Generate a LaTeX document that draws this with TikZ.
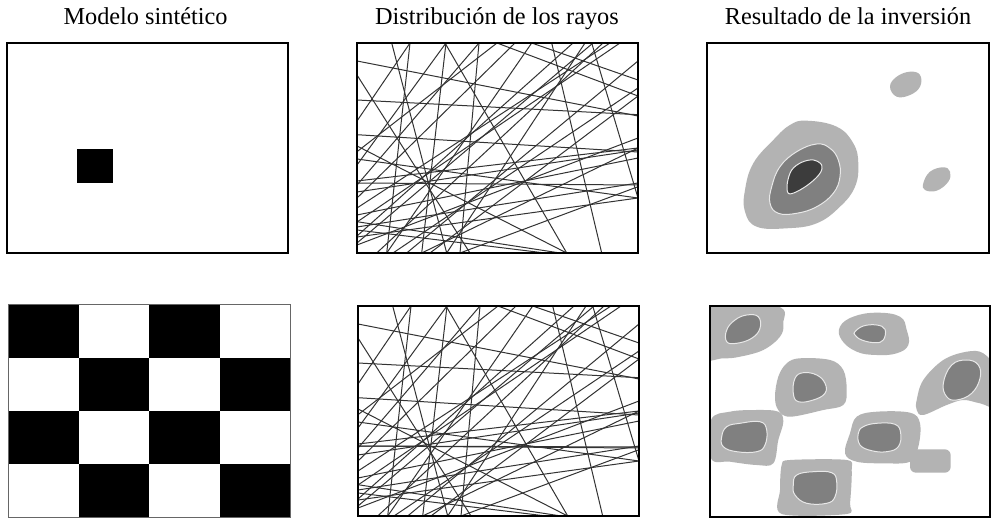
\documentclass[tikz,border=0pt]{standalone}
\usepackage{fontspec}
\setmainfont{Liberation Serif}
\definecolor{lg}{HTML}{B3B3B3}
\definecolor{mg}{HTML}{808080}
\definecolor{dg}{HTML}{3C3C3C}
\definecolor{edge}{HTML}{E8E8E8}
\newcommand\myrays{%
  \foreach \a/\b/\c/\d in {
    376.7/253/603/43, 357/243/593/43, 357/236/573/43, 357/222/620/43,
    357/208/610/43, 406.7/253/638/61, 357/198/515/43, 357/185/479/43,
    393/253/638/88, 357/245/638/138, 421.7/253/638/148, 357/227/638/183,
    357/237/638/198, 357/121/410/43, 357/165/446/43, 430/253/638/96,
    446.7/253/585/43, 357/215/638/158, 386.7/253/531.7/43, 357/151.7/497/43,
    357/192/638/150, 460/253/638/186.7,
    357/61/638/116, 357/100/638/114.7, 357/134.7/638/152, 357/183/638/185,
    357/146/566.7/253, 357/221.7/560/253, 357/75/470/253, 497/43/638/96,
    531.7/43/638/80, 445/43/566.7/253, 391.7/43/446.7/253, 551.7/43/601.7/253,
    591.7/43/638/198, 446/43/421.7/253, 479/43/460/253, 410/43/386.7/253,
    357/230/545/253, 357/181/638/148, 357/159/638/198}
    {\draw[ray] (\a,\b) -- (\c,\d);}%
}
\begin{document}
\begin{tikzpicture}[x=1pt,y=-1pt,
  frame/.style={draw=black,line width=2pt},
  ray/.style={line width=1pt,draw=black!80},
  title/.style={font=\fontsize{24.3}{28}\selectfont,anchor=base},
  outer/.style={fill=lg},
  midl/.style={fill=mg,draw=edge,line width=1pt},
  core/.style={fill=dg,draw=edge,line width=1pt}]
\useasboundingbox (0,0) rectangle (991,518);
\fill[white] (0,0) rectangle (991,518);

% titles
\node[title] (t1) at (145.5,25) {Modelo sintético};
\node[title] (t2) at (497,25) {Distribución de los rayos};
\node[title] (t3) at (848,25) {Resultado de la inversión};

% --- top-left: synthetic model
\fill[black] (77,149) rectangle (113,183);
\draw[frame] (7,43) rectangle (288,253);

% --- bottom-left: checkerboard
\foreach \i in {0,...,3}{
  \foreach \j in {0,...,3}{
    \pgfmathtruncatemacro\cpar{mod(\i+\j,2)}
    \ifnum\cpar=0
      \fill[black] ({8+\i*70.5},{305+\j*53}) rectangle ({8+(\i+1)*70.5},{305+(\j+1)*53});
    \fi
  }
}
\draw[black!60,line width=1pt] (8,305) rectangle (290,517);

% --- ray panels
\begin{scope}
  \clip (357,43) rectangle (638,253);
  \myrays
\end{scope}
\draw[frame] (357,43) rectangle (638,253);
\begin{scope}[shift={(1,263)}]
  \begin{scope}
    \clip (357,43) rectangle (638,253);
    \myrays
    \draw[ray] (357,183) -- (638,184);
  \end{scope}
  \draw[frame] (357,43) rectangle (638,253);
\end{scope}

% --- top-right: inversion result
\fill[outer] plot[smooth cycle,tension=0.7] coordinates {(806.7,120.7) (836.7,126.7) (853.3,143.3) (858.3,163.3) (855,186.7) (840,206.7) (816.7,223.3) (786.7,228.3) (756.7,226.7) (745,211.7) (745,190) (753.3,163.3) (773.3,140) (790,125)};
\filldraw[midl] plot[smooth cycle,tension=0.7] coordinates {(816.7,144) (830,148.3) (838.3,160) (840,176.7) (833.3,193.3) (816.7,206.7) (796.7,213.3) (778.3,213.3) (770,203.3) (771.7,186.7) (780,166.7) (796.7,151.7)};
\filldraw[core] plot[smooth cycle,tension=0.6] coordinates {(813.3,160) (821.7,165) (820,173.3) (810,183.3) (796.7,191.7) (788.3,193.3) (787.3,183.3) (791.7,170) (801.7,162.3)};
\fill[outer] plot[smooth cycle,tension=0.7] coordinates {(890,86.7) (896.7,76.7) (910,71.7) (920,75) (920,86.7) (910,95) (896.7,96.7)};
\fill[outer] plot[smooth cycle,tension=0.7] coordinates {(923.3,183.3) (930,171.7) (943.3,167.3) (950,171.7) (948.3,181.7) (936.7,190.7) (925,190)};
\draw[frame] (707,43) rectangle (989,253);

% --- bottom-right: inversion result
\begin{scope}
\clip (710,306) rectangle (990,517);
% blob 1
\fill[outer] plot[smooth cycle,tension=0.6] coordinates {(700,300) (776.7,306) (783.3,323.3) (780,336.7) (763.3,350) (740,356.7) (723.3,358.3) (700,356)};
\filldraw[midl] plot[smooth cycle,tension=0.7] coordinates {(746.7,315) (758.3,316.7) (760,328.3) (751.7,338.3) (736.7,343.3) (726.7,341.7) (726.7,330) (735,320)};
% blob 2
\fill[outer] plot[smooth cycle,tension=0.7] coordinates {(840,326.7) (853.3,316.7) (876.7,312.7) (900,316.7) (906.7,330) (908.3,345) (896.7,353.3) (876.7,355) (856.7,351.7) (841.7,340)};
\filldraw[midl] plot[smooth cycle,tension=0.7] coordinates {(855,331.7) (863.3,326) (876.7,325) (885,329.3) (883.3,340) (875,342.7) (861.7,340) (855,335)};
% blob 3
\fill[outer] plot[smooth cycle,tension=0.6] coordinates {(786.7,363.3) (800,358.3) (830,360) (843.3,370) (846.7,390) (843.3,405) (823.3,410) (790,416.7) (778.3,410) (775,396.7) (778.3,376.7)};
\filldraw[midl] plot[smooth cycle,tension=0.7] coordinates {(795,378.3) (803.3,372.7) (816.7,375) (825,383.3) (825,393.3) (813.3,400) (798.3,401.7) (793.3,393.3)};
% blob 4
\fill[outer] plot[smooth cycle,tension=0.6] coordinates {(916.7,400) (923.3,380) (943.3,360) (966.7,351.7) (983.3,353.3) (995,370) (995,405) (980,403.3) (963.3,400) (946.7,405) (923.3,415) (916.7,410)};
\filldraw[midl] plot[smooth cycle,tension=0.7] coordinates {(943.3,383.3) (951.7,365) (966.7,360) (978.3,365) (980,378.3) (971.7,393.3) (956.7,400) (946.7,396.7)};
% blob 5
\fill[outer] plot[smooth cycle,tension=0.6] coordinates {(711,420) (730,411.7) (756.7,410) (778.3,411.7) (783.3,421.7) (778.3,440) (773.3,463.3) (756.7,465) (730,461.7) (711,458.3)};
\filldraw[midl] plot[smooth cycle,tension=0.7] coordinates {(726.7,426.7) (740,423.3) (760,421.7) (766.7,430) (765,445) (756.7,451.7) (736.7,451.7) (723.3,446.7) (721.7,436.7)};
% blob 6
\fill[outer] plot[smooth cycle,tension=0.6] coordinates {(856.7,416.7) (876.7,411.7) (910,412.7) (920,423.3) (918.3,446.7) (910,461.7) (883.3,463.3) (856.7,461.7) (845,453.3) (850,433.3)};
\filldraw[midl] plot[smooth cycle,tension=0.7] coordinates {(863.3,426.7) (876.7,423.3) (895,424.3) (900.7,433.3) (898.3,446.7) (886.7,451.7) (871.7,450.7) (860,445) (858.3,433.3)};
% blob 7 (small)
\fill[outer,rounded corners=6pt] (910,449.3) rectangle (950.7,472.7);
% blob 8
\fill[outer] plot[smooth cycle,tension=0.5] coordinates {(781.7,465) (790,460) (846.7,460) (851.7,470) (850,503.3) (846.7,514) (781.7,514) (780,490)};
\filldraw[midl] plot[smooth cycle,tension=0.7] coordinates {(796.7,475) (813.3,471.7) (831.7,472.7) (836.7,481.7) (835,496.7) (826.7,503.3) (806.7,503.3) (795,495) (793.3,485)};
\end{scope}
\draw[frame] (710,306) rectangle (990,517);
\end{tikzpicture}
\end{document}
